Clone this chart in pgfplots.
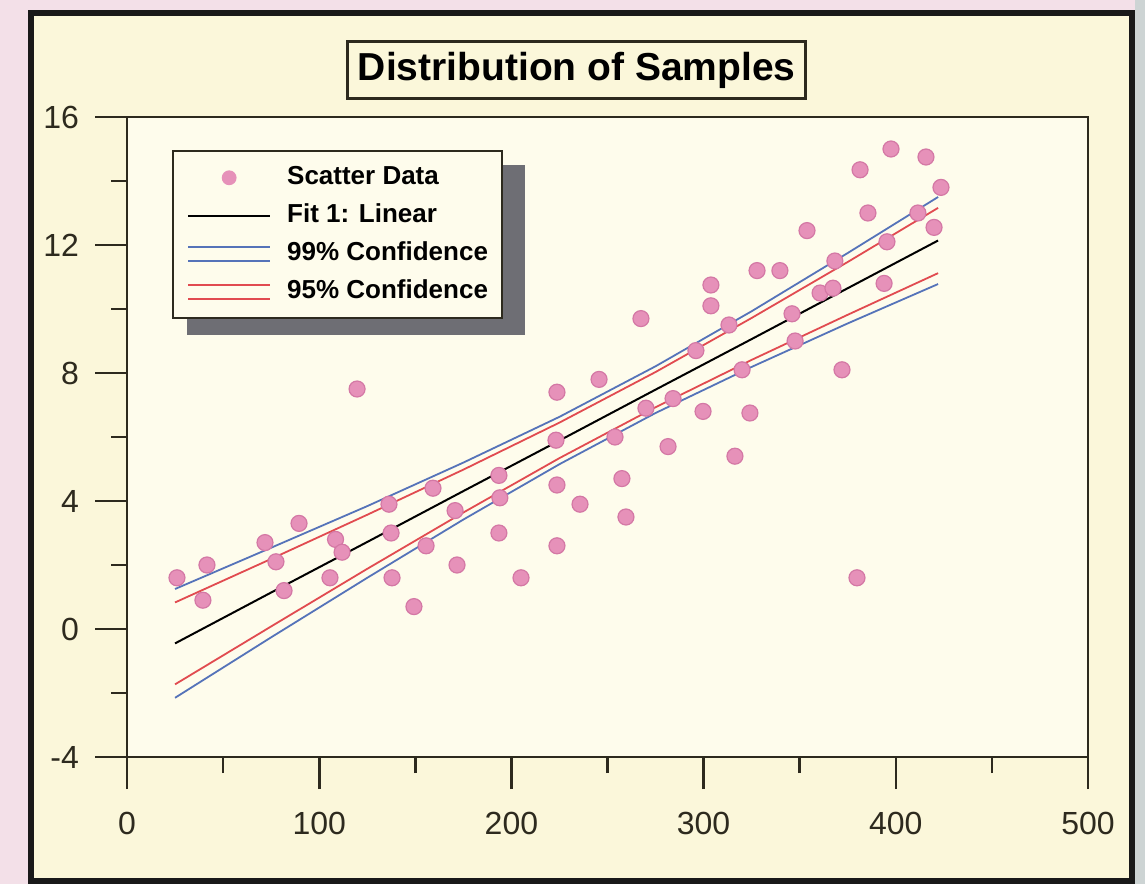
\documentclass[border=0pt]{standalone}
\usepackage{pgfplots}
\pgfplotsset{compat=1.18}
\usepackage{pgfplotstable}
\usepackage{fontspec}
\setmainfont{Liberation Sans}

\definecolor{outerpink}{RGB}{243,224,232}
\definecolor{outergray}{RGB}{205,212,212}
\definecolor{cream}{RGB}{251,247,218}
\definecolor{plotbg}{RGB}{254,252,236}
\definecolor{dotfill}{RGB}{230,145,185}
\definecolor{dotedge}{RGB}{212,120,165}
\definecolor{ci99}{RGB}{85,115,185}
\definecolor{ci95}{RGB}{225,75,80}
\definecolor{axisdark}{RGB}{45,42,30}
\definecolor{shadowgray}{RGB}{110,110,116}

\pgfplotstableread{
x y
26 1.6
39.5 0.9
41.6 2.0
71.8 2.7
77.5 2.1
81.7 1.2
89.5 3.3
105.6 1.6
108.5 2.8
111.9 2.4
119.7 7.5
136.3 3.9
137.4 3.0
137.9 1.6
149.3 0.7
155.6 2.6
159.2 4.4
170.7 3.7
171.7 2.0
193.5 4.8
194 4.1
193.5 3.0
205 1.6
223.7 7.4
223.2 5.9
223.7 4.5
223.7 2.6
235.7 3.9
245.6 7.8
253.9 6.0
257.5 4.7
259.6 3.5
267.4 9.7
270 6.9
281.5 5.7
284.1 7.2
296 8.7
299.7 6.8
303.8 10.75
303.8 10.1
313.2 9.5
316.3 5.4
320 8.1
324.1 6.75
327.8 11.2
339.7 11.2
346 9.85
347.6 9.0
353.8 12.45
360.6 10.5
367.3 10.65
368.3 11.5
372 8.1
379.8 1.6
381.4 14.35
385.5 13.0
393.9 10.8
395.4 12.1
397.5 15.0
411.5 13.0
415.7 14.75
419.9 12.55
423.5 13.8
}\scatterdata

% fit line and confidence bands read off at regular x
\pgfplotstableread{
x fit up95 lo95 up99 lo99
25 -0.45 0.83 -1.73 1.25 -2.15
75 1.14 2.19 0.08 2.54 -0.26
125 2.72 3.57 1.88 3.84 1.60
175 4.31 4.98 3.64 5.20 3.42
225 5.89 6.45 5.34 6.63 5.15
275 7.48 8.03 6.93 8.21 6.75
325 9.06 9.72 8.41 9.93 8.19
375 10.65 11.47 9.82 11.75 9.55
422 12.14 13.16 11.12 13.50 10.78
}\bands

\begin{document}
\begin{tikzpicture}
% page background and outer frame
\fill[outerpink] (0pt,0pt) rectangle (572.5pt,442pt);
\fill[outergray] (567.5pt,0pt) rectangle (572.5pt,442pt);
\draw[line width=3pt, fill=cream, draw=black!90] (15.5pt,1.5pt) rectangle (566pt,435.5pt);

\begin{axis}[
    at={(63.5pt,63.5pt)}, anchor=south west,
    scale only axis,
    width=480.5pt, height=320pt,
    xmin=0, xmax=500, ymin=-4, ymax=16,
    xtick={0,100,...,500}, ytick={-4,0,...,16},
    minor x tick num=1, minor y tick num=1,
    tick pos=left, tick align=outside,
    major tick length=16pt, minor tick length=8pt,
    every tick/.style={axisdark, line width=1.3pt},
    axis line style={axisdark, line width=1pt},
    axis background/.style={fill=plotbg},
    tick label style={font=\fontsize{16}{18}\selectfont, text=axisdark},
    xticklabel style={yshift=-8pt},
    yticklabel style={xshift=-4.5pt},
    /pgf/number format/assume math mode=true,
    title={Distribution of Samples},
    title style={at={(0.468,1)}, anchor=south, yshift=2.5pt,
        draw=axisdark, line width=1.5pt, fill=cream,
        inner xsep=5pt, minimum height=28.5pt,
        font=\bfseries\fontsize{19.5}{22}\selectfont},
    legend style={at={(0.047,0.948)}, anchor=north west,
        fill=plotbg, draw=axisdark, line width=1pt,
        font=\bfseries\fontsize{13}{15}\selectfont,
        inner xsep=7pt, inner ysep=7pt, row sep=6.5pt,
        nodes={inner sep=0pt, text height=9.5pt, text depth=3pt},
        /tikz/every odd column/.append style={column sep=8pt}},
    legend cell align=left,
]
% legend shadow
\fill[shadowgray] (rel axis cs:0.0624,0.925) rectangle (rel axis cs:0.414,0.659);

\addplot[only marks, mark=*, mark size=4pt,
    mark options={fill=dotfill, draw=dotedge, line width=0.6pt},
    legend image code/.code={\fill[dotfill] (20.5pt,0pt) circle (3.2pt);}]
    table[x=x, y=y] {\scatterdata};
\addlegendentry{Scatter Data}

\addplot[black, line width=1pt,
    legend image code/.code={\draw[black, line width=1pt] (0pt,0pt) -- (41pt,0pt);}]
    table[x=x, y=fit] {\bands};
\addlegendentry{Fit 1: Linear}

\addplot[ci99, line width=0.9pt,
    legend image code/.code={
        \draw[ci99, line width=1pt] (0pt,3.6pt) -- (41pt,3.6pt);
        \draw[ci99, line width=1pt] (0pt,-3.6pt) -- (41pt,-3.6pt);}]
    table[x=x, y=up99] {\bands};
\addlegendentry{99\% Confidence}
\addplot[ci99, line width=0.9pt, forget plot] table[x=x, y=lo99] {\bands};

\addplot[ci95, line width=0.9pt,
    legend image code/.code={
        \draw[ci95, line width=1pt] (0pt,3.6pt) -- (41pt,3.6pt);
        \draw[ci95, line width=1pt] (0pt,-3.6pt) -- (41pt,-3.6pt);}]
    table[x=x, y=up95] {\bands};
\addlegendentry{95\% Confidence}
\addplot[ci95, line width=0.9pt, forget plot] table[x=x, y=lo95] {\bands};
\end{axis}
\end{tikzpicture}
\end{document}
